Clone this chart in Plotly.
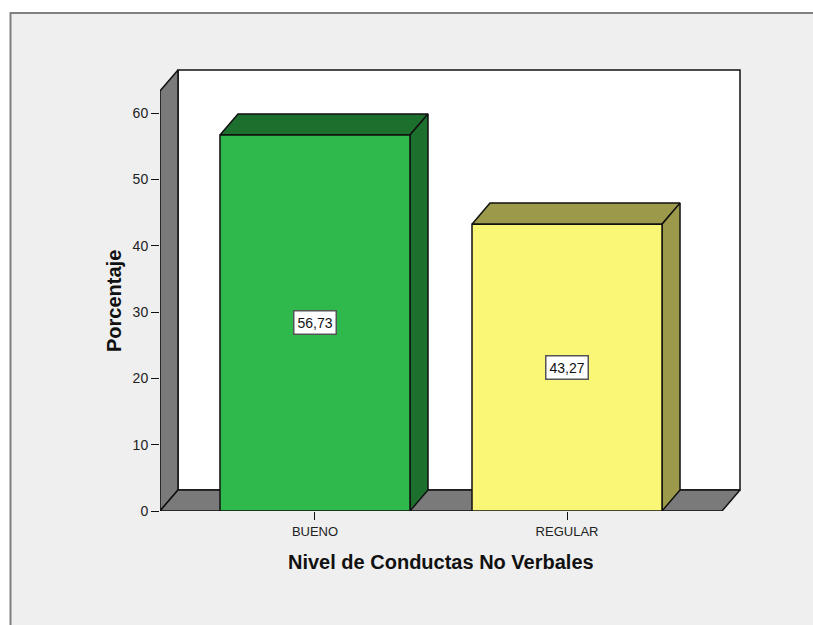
import plotly.graph_objects as go

categories = ["BUENO", "REGULAR"]
values = [56.73, 43.27]
labels = ["56,73", "43,27"]
y_ticks = [0, 10, 20, 30, 40, 50, 60]

front_colors = ["#2fb84b", "#fbf776"]
shade_colors = ["#1d6f2e", "#9c9a4a"]
WALL = "#7a7a7a"
EDGE = "#111111"
BG = "#efefef"

W, H = 813, 625
PAD = 2            # room in pixels so the outer edges are not clipped
L, R, T, B = 160, 73 - PAD, 70 - PAD, 114
PW, PH = W - L - R, H - T - B
X_UNIT, Y_UNIT = 252, 6.63   # pixels per axis unit
DX = 18 / X_UNIT   # oblique depth in x-axis units
DY = 3.17          # oblique depth in y-axis units
HALF = 0.377       # half bar width in x-axis units
FRONT_X = [-0.615, 1.615]
FRONT_TOP = 63.35
X_RANGE = [FRONT_X[0], FRONT_X[1] + DX + PAD / X_UNIT]
Y_RANGE = [0, FRONT_TOP + DY + PAD / Y_UNIT]

fig = go.Figure()


def face(xs, ys, color, edge=EDGE, width=1.5):
    fig.add_trace(go.Scatter(
        x=xs + xs[:1], y=ys + ys[:1], mode="lines", fill="toself",
        fillcolor=color, line=dict(color=edge, width=width),
        cliponaxis=False, hoverinfo="skip", showlegend=False))


x0, x1 = FRONT_X
y1 = FRONT_TOP
# back wall, side wall, floor
face([x0 + DX, x1 + DX, x1 + DX, x0 + DX], [DY, DY, y1 + DY, y1 + DY], "#ffffff")
face([x0, x0 + DX, x0 + DX, x0], [0, DY, y1 + DY, y1], WALL)
face([x0, x1, x1 + DX, x0 + DX], [0, 0, DY, DY], WALL)

# bars
for i, v in enumerate(values):
    a, b = i - HALF, i + HALF
    face([a, b, b + DX, a + DX], [v, v, v + DY, v + DY], shade_colors[i])
    face([b, b + DX, b + DX, b], [0, DY, v + DY, v], shade_colors[i])
    face([a, b, b, a], [0, 0, v, v], front_colors[i])
    fig.add_annotation(
        x=i, y=v / 2, text=labels[i], showarrow=False,
        font=dict(family="Liberation Sans", size=14, color="#111111"),
        bgcolor="#ffffff", bordercolor="#555555", borderwidth=1.5, borderpad=3)

# axis titles, centred on the front plane of the chart
fig.add_annotation(
    xref="x", yref="paper", x=(x0 + x1) / 2, y=-(562 - (H - B)) / PH,
    xanchor="center", yanchor="middle",
    text="<b>Nivel de Conductas No Verbales</b>", showarrow=False,
    font=dict(size=20, color="#111111"))
fig.add_annotation(
    xref="paper", yref="y", x=(114 - L) / PW, y=y1 / 2, textangle=-90,
    xanchor="center", yanchor="middle",
    text="<b>Porcentaje</b>", showarrow=False,
    font=dict(size=20, color="#111111"))

# white outer strip and grey frame of the picture
px = lambda v: (v - L) / PW
py = lambda v: (H - B - v) / PH
for bx0, bx1, by0, by1 in [(0, W, 0, 12), (0, 10, 0, H)]:
    fig.add_shape(type="rect", xref="paper", yref="paper", layer="below",
                  x0=px(bx0), x1=px(bx1), y0=py(by1), y1=py(by0),
                  line=dict(width=0), fillcolor="#ffffff")
fig.add_shape(type="line", xref="paper", yref="paper", layer="below",
              x0=px(10), x1=px(W), y0=py(13), y1=py(13),
              line=dict(color="#808080", width=2))
fig.add_shape(type="line", xref="paper", yref="paper", layer="below",
              x0=px(10.5), x1=px(10.5), y0=py(H), y1=py(12),
              line=dict(color="#808080", width=2))

fig.update_layout(
    width=W, height=H, autosize=False,
    margin=dict(l=L, r=R, t=T, b=B, pad=0),
    paper_bgcolor=BG, plot_bgcolor=BG,
    font=dict(family="Liberation Sans", color="#222222"),
    hovermode=False, showlegend=False,
    xaxis=dict(
        range=X_RANGE, tickmode="array", tickvals=[0, 1], ticktext=categories,
        ticks="outside", ticklen=8, tickwidth=1.3, tickcolor=EDGE,
        tickfont=dict(size=13), showgrid=False, zeroline=False, showline=False),
    yaxis=dict(
        range=Y_RANGE, tickmode="array", tickvals=y_ticks,
        ticks="outside", ticklen=8, tickwidth=1.3, tickcolor=EDGE,
        tickfont=dict(size=14), showgrid=False, zeroline=False, showline=False),
)

fig.write_html("out.html", config=dict(displayModeBar=False),
               post_script="document.body.style.margin='0';")
